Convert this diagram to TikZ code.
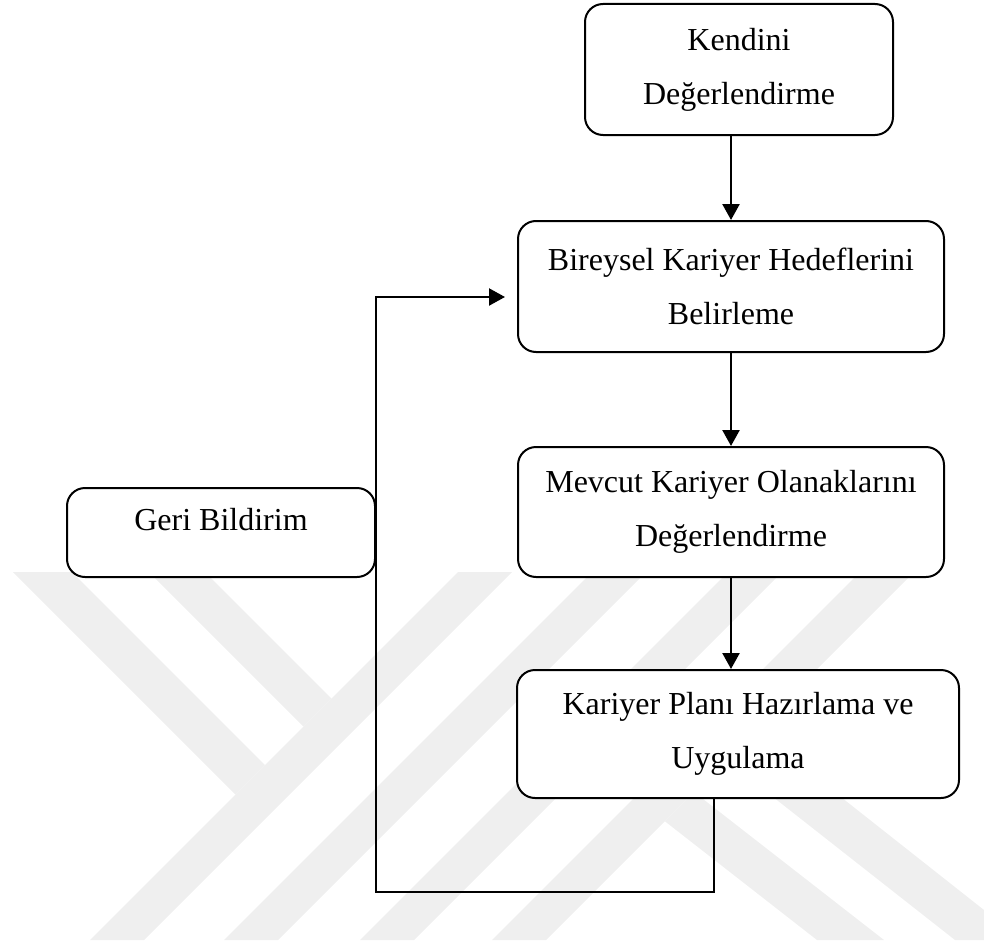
\documentclass[tikz,border=0pt]{standalone}
\usepackage{fontspec}
\setmainfont{Liberation Serif}
\usetikzlibrary{arrows.meta}
\definecolor{wmgray}{HTML}{EFEFEF}
\begin{document}
\begin{tikzpicture}[x=1pt,y=-1pt,
  stage/.style={draw, line width=2pt, rounded corners=18pt, fill=white,
    align=center, inner sep=0pt, font=\fontsize{32}{54}\selectfont},
  label text/.style={inner sep=0pt, font=\fontsize{32}{54}\selectfont},
  flow/.style={line width=2.4pt, -{Triangle[length=16pt,width=17pt]}},
  feedback/.style={line width=2.2pt, line join=miter, -{Triangle[length=16pt,width=17pt]}},
  wm/.style={fill=wmgray, draw=none}]
\useasboundingbox (0,0) rectangle (984,947);

% faint background emblem: diagonal bands
\fill[wm] (90,940) -- (144,940) -- (512,572) -- (458,572) -- cycle;
\fill[wm] (224,940) -- (278,940) -- (646,572) -- (592,572) -- cycle;
\fill[wm] (360,940) -- (414,940) -- (782,572) -- (728,572) -- cycle;
\fill[wm] (492,940) -- (546,940) -- (914,572) -- (860,572) -- cycle;
\fill[wm] (13,572) -- (72,572) -- (265,765) -- (235.5,794.5) -- cycle;
\fill[wm] (149,572) -- (205,572) -- (331.5,698.5) -- (303.5,726.5) -- cycle;
\fill[wm] (664.8,821.2) -- (694,792) -- (884,940) -- (817,940) -- cycle;
\fill[wm] (726,760) -- (756,730) -- (1022,940) -- (955,940) -- cycle;

% process boxes
\node[stage, minimum width=308pt, minimum height=131pt] (b1) at (739,69.5)
  {Kendini\\Değerlendirme};
\node[stage, minimum width=426pt, minimum height=131pt] (b2) at (731,286.5)
  {Bireysel Kariyer Hedeflerini\\Belirleme};
\node[stage, minimum width=426pt, minimum height=130pt] (b3) at (731,512)
  {Mevcut Kariyer Olanaklarını\\Değerlendirme};
\node[stage, minimum width=442pt, minimum height=128pt] (b4) at (738,734)
  {Kariyer Planı Hazırlama ve\\Uygulama};
\node[stage, minimum width=308pt, minimum height=89pt] (geri) at (221,532.5) {};
\node[label text] (geritext) at (221,520) {Geri Bildirim};

% main flow
\draw[flow] (b1.south -| b2.north) -- (b2.north);
\draw[flow] (b2.south) -- (b2.south |- b3.north);
\draw[flow] (b3.south) -- (b3.south |- b4.north);

% feedback loop
\coordinate (fbdown) at (714,892);
\coordinate (fbleft) at (geri.east |- fbdown);
\coordinate (fbend) at (505,297);
\draw[feedback] (fbdown |- b4.south) -- (fbdown) -- (fbleft) -- (fbleft |- fbend) -- (fbend);
\end{tikzpicture}
\end{document}
